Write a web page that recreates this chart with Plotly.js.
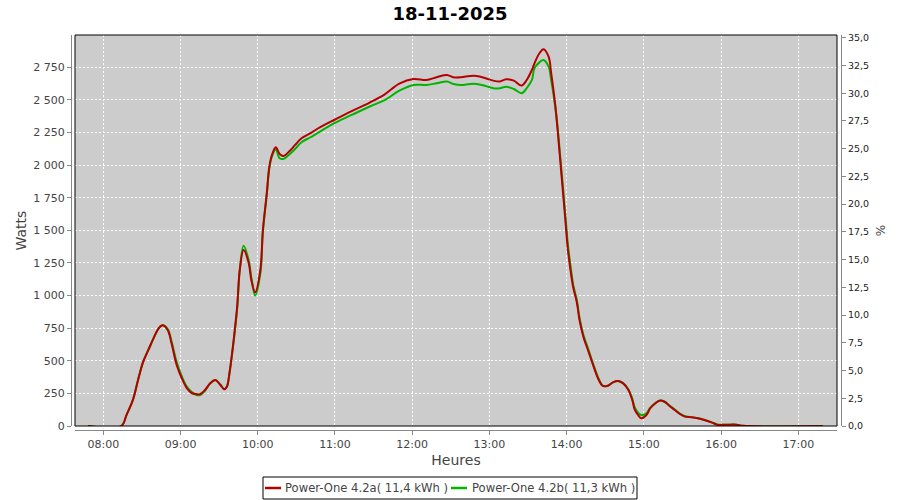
<!DOCTYPE html>
<html>
<head>
<meta charset="utf-8">
<script src="https://cdn.plot.ly/plotly-3.0.1.min.js"></script>
<style>html,body{margin:0;padding:0;background:#fff}#chart{width:900px;height:500px}</style>
</head>
<body>
<div id="chart"></div>
<script>
const day = "2025-11-18";
const times = ["07:48","08:14","08:18","08:23","08:27","08:31","08:35","08:39","08:43","08:46",
"08:50","08:53","08:57","09:01","09:05","09:09","09:12","09:15","09:19","09:23",
"09:27","09:31","09:34","09:36","09:38","09:41","09:44","09:46","09:49","09:53",
"09:55","09:58","10:02","10:04","10:07","10:09","10:11","10:14","10:17","10:20",
"10:25","10:29","10:34","10:41","10:47","11:00","11:13","11:27","11:39","11:50",
"12:01","12:11","12:19","12:27","12:32","12:38","12:45","12:50","12:57","13:03",
"13:08","13:13","13:19","13:25","13:29","13:33","13:35","13:39","13:42","13:46",
"13:48","13:51","13:53","13:55","13:57","13:59","14:01","14:03","14:05","14:08",
"14:10","14:13","14:17","14:21","14:25","14:28","14:32","14:36","14:40","14:44",
"14:48","14:51","14:53","14:56","14:58","15:02","15:05","15:09","15:12","15:16",
"15:20","15:24","15:28","15:32","15:37","15:42","15:47","15:53","15:57","16:04",
"16:12","16:17","17:19"];
const wattsA = [0,0,84,200,353,493,583,672,749,772,
736,634,468,366,289,251,245,243,276,327,
353,314,281,301,406,636,915,1196,1350,1248,
1120,1025,1196,1503,1784,1989,2078,2137,2086,2071,
2111,2155,2206,2245,2283,2350,2415,2480,2545,2625,
2661,2653,2674,2692,2674,2674,2684,2684,2667,2648,
2641,2659,2648,2610,2653,2730,2781,2860,2889,2832,
2705,2475,2270,2040,1810,1580,1350,1196,1068,945,
813,685,570,455,353,307,309,335,345,327,
276,199,123,77,59,84,136,174,194,186,
153,123,92,72,67,59,46,26,10,10,
10,1,0];
const wattsB = [0,0,84,200,353,493,583,672,749,772,
745,650,490,380,300,258,240,237,270,325,
352,316,283,300,400,625,900,1190,1383,1270,
1140,1000,1170,1490,1770,1975,2065,2122,2053,2048,
2086,2124,2176,2214,2250,2325,2385,2450,2500,2571,
2615,2615,2628,2641,2623,2615,2623,2623,2607,2590,
2590,2602,2584,2551,2590,2653,2743,2790,2807,2756,
2653,2460,2290,2070,1850,1620,1390,1230,1090,960,
830,700,585,465,360,310,309,335,345,327,
280,210,140,97,84,97,140,176,194,188,
156,126,95,75,68,60,48,28,12,10,
10,1,0];
const nameA = "Power-One 4.2a( 11,4 kWh )";
const nameB = "Power-One 4.2b( 11,3 kWh )";
const colorA = "#b40000";
const colorB = "#00b400";
const titleText = "18-11-2025";

const xs = times.map(t => day + " " + t);
const FONT = "DejaVu Sans";

const traces = [
  {x: xs, y: wattsB, name: nameB, type: "scatter", mode: "lines", showlegend: false,
   line: {color: colorB, width: 2, shape: "spline", smoothing: 1}, hoverinfo: "x+y"},
  {x: xs, y: wattsA, name: nameA, type: "scatter", mode: "lines", showlegend: false,
   line: {color: colorA, width: 2, shape: "spline", smoothing: 1}, hoverinfo: "x+y"},
  {x: [], y: [], yaxis: "y2", showlegend: false, hoverinfo: "skip", type: "scatter", mode: "lines"}
];

// plot area in pixels: left 71, right 841, top 35, bottom 430
const PL = 71, PT = 35, W = 770, H = 395;
const px = v => (v - PL) / W;
const py = v => (PT + H - v) / H;
const dx0 = px(75), dx1 = px(837), dy0 = py(426);

// legend drawn as a boxed key below the axis
const legendShapes = [
  {type: "rect", xref: "paper", yref: "paper", x0: px(263), x1: px(637), y0: py(499), y1: py(477),
   line: {color: "#000000", width: 1}, fillcolor: "#ffffff"},
  {type: "line", xref: "paper", yref: "paper", x0: px(265), x1: px(281), y0: py(488), y1: py(488),
   line: {color: colorA, width: 2.5}},
  {type: "line", xref: "paper", yref: "paper", x0: px(451), x1: px(467), y0: py(488), y1: py(488),
   line: {color: colorB, width: 2.5}}
];
const legendAnnots = [
  {text: nameA, xref: "paper", yref: "paper", x: px(283), y: py(488), xanchor: "left", yanchor: "middle",
   showarrow: false, font: {family: FONT, size: 11.6, color: "#444444"}},
  {text: nameB, xref: "paper", yref: "paper", x: px(470), y: py(488), xanchor: "left", yanchor: "middle",
   showarrow: false, font: {family: FONT, size: 11.6, color: "#444444"}}
];

const layout = {
  width: 900, height: 500,
  margin: {l: PL, r: 900 - PL - W, t: PT, b: 500 - PT - H, pad: 0},
  paper_bgcolor: "#ffffff",
  plot_bgcolor: "#cccccc",
  separators: ", ",
  font: {family: FONT, size: 11, color: "#444444"},
  title: {text: "<b>" + titleText + "</b>", font: {family: FONT, size: 18, color: "#000000"},
          x: 0.5, xref: "container", y: 0.972, yref: "container", yanchor: "middle"},
  showlegend: false,
  xaxis: {
    type: "date", domain: [dx0, dx1], anchor: "free", position: 0,
    range: [day + " 07:38", day + " 17:30:05"],
    dtick: 3600000, tick0: day + " 08:00", tickformat: "%H:%M",
    showgrid: true, gridcolor: "#ffffff", gridwidth: 1, griddash: "2px,2px",
    showline: true, linecolor: "#888888", linewidth: 1,
    ticks: "outside", ticklen: 4, tickcolor: "#888888",
    tickfont: {family: FONT, size: 11, color: "#444444"},
    zeroline: false,
    title: {text: "Heures", font: {family: FONT, size: 14, color: "#444444"}, standoff: 4}
  },
  yaxis: {
    domain: [dy0, 1], anchor: "free", position: 0,
    range: [0, 2998], dtick: 250, tick0: 0, tickformat: ",d",
    showgrid: true, gridcolor: "#ffffff", gridwidth: 1, griddash: "2px,2px",
    showline: true, linecolor: "#888888", linewidth: 1,
    ticks: "outside", ticklen: 4, tickcolor: "#888888",
    tickfont: {family: FONT, size: 11, color: "#444444"},
    zeroline: false,
    title: {text: "Watts", font: {family: FONT, size: 14, color: "#444444"}, standoff: 2}
  },
  yaxis2: {
    domain: [dy0, 1], overlaying: "y", side: "right", anchor: "free", position: 1,
    range: [0, 35.25], dtick: 2.5, tick0: 0, tickformat: ".1f",
    showgrid: false, showline: true, linecolor: "#888888", linewidth: 1,
    ticks: "outside", ticklen: 4, tickcolor: "#888888",
    tickfont: {family: FONT, size: 9.5, color: "#222222"},
    zeroline: false,
    title: {text: "%", font: {family: FONT, size: 12, color: "#444444"}, standoff: 8}
  },
  shapes: [
    {type: "rect", xref: "paper", yref: "paper", x0: dx0, x1: dx1, y0: dy0, y1: 1,
     line: {color: "#000000", width: 1}, fillcolor: "rgba(0,0,0,0)", layer: "above"}
  ].concat(legendShapes),
  annotations: legendAnnots
};

Plotly.newPlot("chart", traces, layout, {displayModeBar: false});
</script>
</body>
</html>
